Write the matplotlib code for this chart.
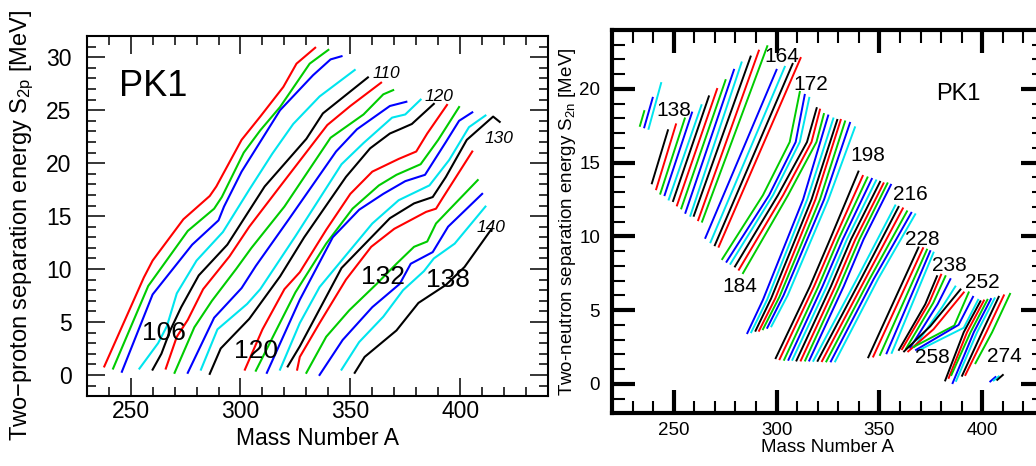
import matplotlib
matplotlib.use("Agg")
import matplotlib.pyplot as plt
from matplotlib.ticker import MultipleLocator

plt.rcParams["font.family"] = ["Liberation Sans", "DejaVu Sans"]
plt.rcParams["mathtext.fontset"] = "custom"
plt.rcParams["mathtext.rm"] = "Liberation Sans"
plt.rcParams["mathtext.it"] = "Liberation Sans:italic"

COLORS = {"r": "#ff0000", "g": "#00cc00", "b": "#0000ff", "c": "#00e5ee", "k": "#000000"}

# ---- left panel: S2p vs A, one line per chain, colours cycle r g b c k ----
S2P_COLORS = "rgbckrgbckrgbckrgbck"
S2P_A = [
    [238.0, 256.0, 260.0, 274.0, 286.0, 289.0, 300.5, 309.0, 319.5, 325.5, 334.0],
    [242.0, 258.0, 276.0, 288.0, 291.5, 301.5, 309.0, 318.0, 331.5, 340.0],
    [246.0, 260.0, 278.0, 290.0, 292.5, 300.5, 318.0, 333.0, 341.0, 346.0],
    [254.0, 262.5, 266.5, 271.0, 280.0, 292.0, 304.0, 314.5, 324.0, 336.0, 352.0],
    [260.0, 264.0, 268.0, 273.0, 281.0, 294.0, 311.0, 330.0, 337.5, 358.0],
    [266.0, 271.0, 276.0, 283.0, 295.0, 304.0, 318.0, 339.5, 350.0, 364.0],
    [270.0, 279.0, 287.0, 298.0, 305.0, 320.0, 341.0, 356.0, 365.0, 369.5],
    [276.0, 288.0, 300.5, 307.0, 322.0, 343.5, 353.0, 368.0, 375.5],
    [282.0, 289.5, 303.0, 309.0, 325.0, 346.0, 356.0, 369.0, 375.0, 382.0],
    [286.0, 291.0, 304.0, 318.0, 329.0, 348.0, 359.0, 368.0, 372.5, 378.0, 388.0],
    [302.0, 310.0, 320.0, 327.0, 339.0, 350.0, 360.0, 372.0, 380.0, 385.0, 394.0],
    [307.0, 315.0, 325.0, 339.0, 351.0, 363.0, 371.0, 382.0, 390.0, 399.5],
    [312.0, 327.0, 342.0, 354.0, 365.0, 375.0, 384.0, 393.5, 399.5, 405.5],
    [318.0, 327.0, 336.0, 350.0, 360.0, 372.0, 386.0, 395.0, 404.0, 411.5],
    [321.5, 327.0, 346.0, 368.0, 379.0, 387.5, 393.5, 403.0, 415.0, 418.0],
    [325.8, 327.0, 336.0, 348.0, 359.5, 370.0, 384.5, 389.0, 392.0, 405.5],
    [330.0, 339.0, 349.5, 362.0, 371.0, 379.0, 385.0, 389.0, 395.0, 408.0],
    [336.0, 346.5, 360.0, 372.5, 377.5, 387.5, 394.5, 410.0],
    [346.0, 354.0, 365.0, 374.0, 383.5, 388.0, 397.5, 411.5],
    [352.0, 356.5, 371.0, 381.0, 393.5, 402.0, 414.0],
]
S2P_S = [
    [0.8, 9.2, 10.8, 14.7, 16.9, 17.8, 22.2, 24.4, 27.2, 29.4, 30.9],
    [0.6, 8.4, 13.6, 15.7, 16.8, 21.0, 23.1, 25.3, 29.4, 30.7],
    [0.3, 7.6, 12.3, 14.6, 15.9, 19.2, 25.0, 28.3, 29.8, 30.1],
    [0.6, 3.0, 4.6, 7.7, 10.8, 13.5, 17.5, 20.9, 23.7, 26.3, 28.8],
    [0.5, 2.0, 4.2, 6.4, 9.4, 12.3, 17.8, 22.3, 24.7, 28.1],
    [0.6, 3.6, 5.2, 8.1, 11.2, 14.0, 17.8, 23.6, 25.4, 27.6],
    [0.2, 4.5, 7.0, 10.0, 12.0, 15.9, 22.4, 24.6, 26.5, 26.9],
    [0.2, 5.4, 8.2, 10.3, 14.7, 21.1, 23.2, 25.4, 25.8],
    [0.5, 4.3, 6.7, 8.1, 13.1, 19.9, 21.9, 24.3, 24.6, 26.0],
    [0.1, 2.5, 5.3, 9.3, 13.0, 18.7, 21.4, 22.8, 23.2, 23.7, 25.6],
    [0.5, 4.3, 8.1, 9.7, 13.7, 17.1, 19.2, 20.4, 21.1, 22.8, 25.5],
    [0.4, 3.7, 7.8, 12.4, 15.7, 17.9, 18.9, 19.9, 22.2, 25.3],
    [0.2, 7.1, 13.0, 15.6, 17.1, 18.3, 18.9, 22.0, 24.0, 24.8],
    [0.5, 4.9, 8.3, 11.8, 14.3, 16.5, 17.9, 20.3, 23.4, 24.5],
    [0.8, 2.7, 10.1, 14.8, 16.2, 16.8, 18.7, 22.2, 24.4, 23.9],
    [0.5, 1.7, 4.9, 9.0, 12.1, 13.8, 15.4, 15.7, 16.7, 21.1],
    [0.2, 3.6, 6.1, 8.6, 10.5, 12.1, 12.6, 14.3, 15.6, 18.4],
    [0.0, 3.3, 6.4, 8.6, 10.5, 11.6, 14.0, 17.1],
    [0.5, 3.1, 5.5, 8.0, 9.8, 11.0, 12.4, 15.9],
    [0.2, 1.7, 4.2, 6.8, 8.5, 10.2, 13.7],
]
S2P_BIG_LABELS = ["106", "120", "132", "138"]
S2P_BIG_X = [255.0, 297.0, 355.0, 384.5]
S2P_BIG_Y = [3.3, 1.6, 8.6, 8.3]
S2P_SMALL_LABELS = ["110", "120", "130", "140"]
S2P_SMALL_X = [360.3, 383.8, 411.0, 407.3]
S2P_SMALL_Y = [28.0, 25.9, 21.9, 13.5]

# ---- right panel: S2n vs A, drawn block by block (colour codes per line) ----
S2N_BLOCK_COLORS = ["gbc", "krgbckrgbckrg", "bckr", "gbckrg", "bckrgbc",
                    "krgbckrgb", "ckrgbc", "krgbc", "krgbc", "krgbc", "krgbckrg", "bck"]
S2N_A = [
    [[233.6, 235.7], [235.7, 239.8], [237.8, 243.9]],
    [[239.4, 247.2], [241.5, 251.1], [243.5, 255.4], [245.6, 258.9], [247.6, 263.5],
     [249.7, 267.1], [251.6, 271.1], [253.7, 275.2], [255.7, 279.3], [258.1, 283.0],
     [259.8, 287.4], [261.9, 291.4], [263.8, 295.5]],
    [[265.4, 300.0], [267.9, 304.0], [270.0, 307.8], [271.9, 311.7]],
    [[273.6, 293.4, 306.4, 311.3], [275.7, 296.4, 309.3, 313.7], [277.6, 298.3, 311.3, 315.9],
     [279.8, 300.7, 314.8, 319.5], [281.7, 303.2, 317.0, 321.1], [283.7, 305.6, 319.4, 323.0]],
    [[285.8, 293.4, 312.9, 325.1], [287.7, 295.4, 314.9, 327.6], [289.8, 297.4, 317.0, 329.5],
     [291.5, 299.4, 318.9, 331.2], [293.4, 301.4, 321.1, 333.3], [295.5, 303.4, 323.1, 335.7],
     [297.5, 305.4, 325.2, 338.1]],
    [[299.6, 316.2, 326.0, 339.8], [301.5, 318.2, 328.1, 341.9], [303.7, 320.3, 330.1, 344.2],
     [305.8, 322.3, 332.2, 346.3], [307.7, 324.4, 334.2, 348.4], [309.7, 326.4, 336.2, 350.3],
     [311.8, 328.5, 338.3, 352.0], [313.9, 330.5, 340.3, 353.9], [315.9, 332.6, 342.3, 355.6]],
    [[317.9, 339.0, 357.7], [320.0, 341.0, 359.3], [322.1, 343.1, 361.4],
     [324.2, 345.2, 363.4], [326.4, 347.2, 365.5], [328.5, 349.3, 367.4]],
    [[344.6, 369.0], [347.0, 371.2], [350.3, 373.1], [353.5, 374.7], [356.0, 376.3]],
    [[359.5, 372.3, 378.0], [361.0, 374.2, 380.0], [363.0, 376.2, 382.1],
     [365.0, 378.3, 384.5], [367.0, 380.5, 386.9]],
    [[362.0, 374.7, 389.4], [364.0, 376.3, 391.0], [366.6, 386.4, 393.4],
     [367.8, 388.5, 395.5], [369.5, 391.0, 398.0]],
    [[382.0, 391.0, 399.1], [383.7, 392.6, 400.8], [385.0, 394.3, 402.5], [385.6, 395.9, 404.2],
     [387.3, 397.5, 406.0], [390.2, 399.9, 408.0], [391.8, 402.0, 410.5], [396.7, 404.8, 413.5]],
    [[403.9, 406.4], [405.6, 408.0], [407.3, 410.0]],
]
S2N_S = [
    [[17.5, 18.5], [17.4, 19.4], [17.3, 20.4]],
    [[13.6, 17.2], [13.2, 17.6], [12.9, 18.0], [12.8, 18.4], [12.5, 18.9],
     [12.4, 19.5], [12.1, 20.0], [11.9, 20.6], [11.6, 21.3], [11.4, 21.8],
     [11.4, 22.2], [11.1, 22.6], [11.0, 22.9]],
    [[9.9, 21.3], [9.6, 21.5], [9.4, 21.7], [9.3, 22.1]],
    [[8.46, 12.8, 16.4, 19.8], [8.28, 12.8, 16.4, 19.6], [8.14, 12.8, 16.4, 19.4],
     [7.96, 12.8, 16.4, 18.7], [7.74, 12.8, 16.4, 18.6], [7.51, 12.8, 16.4, 18.3]],
    [[3.44, 5.7, 12.5, 18.2], [3.5, 5.7, 12.5, 18.0], [3.6, 5.8, 12.5, 17.9],
     [3.6, 5.8, 12.5, 17.9], [3.7, 5.9, 12.5, 17.8], [3.8, 6.0, 12.5, 17.7],
     [3.9, 6.0, 12.5, 17.4]],
    [[1.74, 6.6, 9.8, 14.4], [1.67, 6.6, 9.8, 14.1], [1.63, 6.6, 9.8, 14.0],
     [1.63, 6.6, 9.8, 13.9], [1.63, 6.6, 9.8, 13.8], [1.58, 6.6, 9.8, 13.7],
     [1.58, 6.6, 9.8, 13.6], [1.58, 6.6, 9.8, 13.6], [1.58, 6.6, 9.8, 13.5]],
    [[1.56, 7.1, 12.1], [1.56, 7.1, 12.0], [1.54, 7.1, 11.9],
     [1.52, 7.1, 11.7], [1.52, 7.1, 11.6], [1.52, 7.1, 11.5]],
    [[1.8, 9.25], [1.85, 9.2], [1.96, 9.1], [2.07, 9.0], [2.1, 8.9]],
    [[2.3, 5.4, 7.3], [2.35, 5.5, 7.4], [2.4, 5.5, 7.3], [2.45, 5.4, 7.1], [2.5, 5.2, 6.6]],
    [[2.2, 3.9, 6.4], [2.2, 3.7, 6.2], [2.5, 3.95, 6.2], [2.3, 4.0, 5.9], [2.3, 3.8, 5.7]],
    [[0.23, 3.5, 5.6], [0.4, 3.5, 5.65], [0.6, 3.5, 5.7], [0.05, 3.5, 5.75],
     [0.2, 3.5, 5.8], [0.55, 3.5, 5.9], [0.6, 3.5, 6.0], [1.4, 3.5, 6.1]],
    [[0.16, 0.46], [0.23, 0.5], [0.27, 0.6]],
]
S2N_LABELS = ["138", "164", "172", "198", "216", "228", "238", "252", "184", "258", "274"]
S2N_LABEL_X = [241.4, 294.2, 308.0, 335.7, 356.8, 362.5, 375.6, 391.8, 273.6, 367.4, 402.4]
S2N_LABEL_Y = [18.2, 21.8, 19.9, 15.1, 12.5, 9.4, 7.65, 6.5, 6.2, 1.4, 1.45]

fig = plt.figure(figsize=(10.36, 4.66), dpi=100)

# ---------------- left panel ----------------
ax1 = fig.add_axes([0.0837, 0.150, 0.4453, 0.7725])
for a, s, c in zip(S2P_A, S2P_S, S2P_COLORS):
    ax1.plot(a, s, color=COLORS[c], lw=1.5)
for t, x, y in zip(S2P_BIG_LABELS, S2P_BIG_X, S2P_BIG_Y):
    ax1.text(x, y, t, fontsize=19, ha="left", va="baseline")
for t, x, y in zip(S2P_SMALL_LABELS, S2P_SMALL_X, S2P_SMALL_Y):
    ax1.text(x, y, t, fontsize=12.5, style="italic", ha="left", va="baseline")
ax1.text(244.7, 26.3, "PK1", fontsize=26, ha="left", va="baseline")

ax1.set_xlim(230, 440)
ax1.set_ylim(-2, 32)
ax1.set_xticks([250, 300, 350, 400])
ax1.set_yticks([0, 5, 10, 15, 20, 25, 30])
ax1.xaxis.set_minor_locator(MultipleLocator(10))
ax1.yaxis.set_minor_locator(MultipleLocator(1))
ax1.tick_params(which="both", direction="in", top=True, right=True, width=1.1)
ax1.tick_params(which="major", length=13, labelsize=16.5)
ax1.tick_params(axis="y", which="major", pad=11)
ax1.tick_params(axis="x", which="major", pad=2.5)
ax1.tick_params(which="minor", length=6.5)
for sp in ax1.spines.values():
    sp.set_linewidth(1.5)
ax1.set_xlabel("Mass Number A", fontsize=16.5, va="center")
ax1.xaxis.set_label_coords(0.501, -0.118)
ax1.set_ylabel("Two\u2212proton separation energy S$_{\\mathrm{2p}}$ [MeV]", fontsize=17, va="center")
ax1.yaxis.set_label_coords(-0.140, 0.475)

# ---------------- right panel ----------------
ax2 = fig.add_axes([0.5907, 0.1131, 0.4170, 0.8225])
for cols, block_a, block_s in zip(S2N_BLOCK_COLORS, S2N_A, S2N_S):
    for c, a, s in zip(cols, block_a, block_s):
        ax2.plot(a, s, color=COLORS[c], lw=1.4)
for t, x, y in zip(S2N_LABELS, S2N_LABEL_X, S2N_LABEL_Y):
    ax2.text(x, y, t, fontsize=15, ha="left", va="baseline")
ax2.text(377.7, 19.25, "PK1", fontsize=17, ha="left", va="baseline")

ax2.set_xlim(220, 430)
ax2.set_ylim(-2, 24)
ax2.set_xticks([250, 300, 350, 400])
ax2.set_yticks([0, 5, 10, 15, 20])
ax2.xaxis.set_minor_locator(MultipleLocator(10))
ax2.yaxis.set_minor_locator(MultipleLocator(1))
ax2.tick_params(which="both", direction="in", top=True, right=True)
ax2.tick_params(which="major", length=16.5, width=3, labelsize=13.5)
ax2.tick_params(axis="y", which="major", pad=8.5)
ax2.tick_params(axis="x", which="major", pad=6)
ax2.tick_params(which="minor", length=9, width=1.5)
for sp in ax2.spines.values():
    sp.set_linewidth(3)
ax2.set_xlabel("Mass Number A", fontsize=13.5, va="center")
ax2.xaxis.set_label_coords(0.498, -0.0905)
ax2.set_ylabel("Two-neutron separation energy S$_{\\mathrm{2n}}$ [MeV]", fontsize=13.5, va="center")
ax2.yaxis.set_label_coords(-0.102, 0.499)

fig.savefig("out.png", dpi=100)
